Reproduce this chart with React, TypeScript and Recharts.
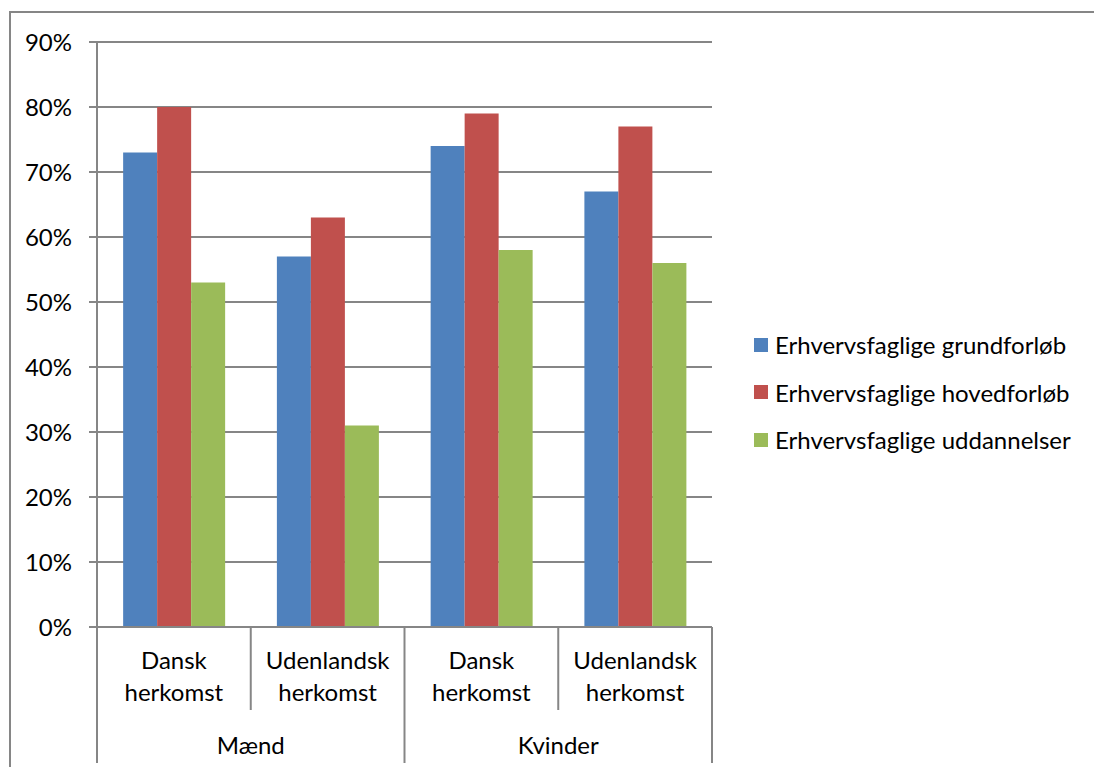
import React from 'react'
import { BarChart, Bar, XAxis, YAxis, CartesianGrid, Legend } from 'recharts'

const groups = ['Mænd', 'Mænd', 'Kvinder', 'Kvinder']
const origins = ['Dansk herkomst', 'Udenlandsk herkomst', 'Dansk herkomst', 'Udenlandsk herkomst']
const grundforloeb = [73, 57, 74, 67]
const hovedforloeb = [80, 63, 79, 77]
const uddannelser = [53, 31, 58, 56]
const yTicks = [0, 10, 20, 30, 40, 50, 60, 70, 80, 90]

const seriesNames = [
  'Erhvervsfaglige grundforløb',
  'Erhvervsfaglige hovedforløb',
  'Erhvervsfaglige uddannelser',
]

const data = origins.map((o, i) => ({
  key: i,
  origin: o,
  group: groups[i],
  grund: grundforloeb[i] / 100,
  hoved: hovedforloeb[i] / 100,
  udd: uddannelser[i] / 100,
}))

const FONT = 'Lato, "Liberation Sans", sans-serif'
const FS = 24
const GRID = '#868686'

const CategoryTick = (props: any) => {
  const { x, y, payload, index } = props
  const half = payload.offset ?? 0
  const row = data[index]
  const [l1, l2] = row.origin.split(' ')
  const left = x - half
  const right = x + half
  const groupStart = index === 0 || groups[index] !== groups[index - 1]
  const isLast = index === data.length - 1
  return (
    <g>
      <line x1={left} y1={y} x2={left} y2={groupStart ? y + 136 : y + 83} stroke={GRID} strokeWidth={2} />
      {isLast && <line x1={right} y1={y} x2={right} y2={y + 136} stroke={GRID} strokeWidth={2} />}
      <text x={x} y={y + 42} textAnchor="middle" fontFamily={FONT} fontSize={FS} fill="#000">
        {l1}
      </text>
      <text x={x} y={y + 74} textAnchor="middle" fontFamily={FONT} fontSize={FS} fill="#000">
        {l2}
      </text>
      {groupStart && (
        <text x={right} y={y + 127} textAnchor="middle" fontFamily={FONT} fontSize={FS} fill="#000">
          {row.group}
        </text>
      )}
    </g>
  )
}

const LegendContent = () => {
  const colors = ['#4F81BD', '#C0504D', '#9BBB59']
  return (
    <div style={{ fontFamily: FONT, fontSize: FS, color: '#000' }}>
      {seriesNames.map((n, i) => (
        <div key={n} style={{ display: 'flex', alignItems: 'center', height: 47.5 }}>
          <span style={{ display: 'inline-block', width: 14, height: 14, background: colors[i], marginRight: 7 }} />
          {n}
        </div>
      ))}
    </div>
  )
}

export default function App() {
  return (
    <div style={{ position: 'absolute', left: 0, top: 0, width: 1094, height: 767, background: '#fff', overflow: 'hidden' }}>
      <svg width={1094} height={767} style={{ position: 'absolute', left: 0, top: 0 }}>
        <rect x={10} y={12} width={1200} height={800} fill="none" stroke={GRID} strokeWidth={2} />
      </svg>
      <BarChart
        width={1094}
        height={767}
        data={data}
        margin={{ top: 42, right: 382, bottom: 0, left: 17 }}
        barCategoryGap="17%"
        barGap={0}
        style={{ position: 'absolute', left: 0, top: 0 }}
      >
        <CartesianGrid vertical={false} stroke={GRID} strokeWidth={2} />
        <YAxis
          width={80}
          domain={[0, 0.9]}
          ticks={yTicks.map(t => t / 100)}
          tickFormatter={v => `${Math.round(v * 100)}%`}
          interval={0}
          axisLine={{ stroke: GRID, strokeWidth: 2 }}
          tickLine={{ stroke: GRID, strokeWidth: 2 }}
          tickSize={8}
          tickMargin={17}
          tick={{ fontFamily: FONT, fontSize: FS, fill: '#000' }}
        />
        <XAxis
          dataKey="key"
          height={140}
          interval={0}
          tickSize={0}
          tickMargin={0}
          tickLine={false}
          axisLine={{ stroke: GRID, strokeWidth: 2 }}
          tick={<CategoryTick />}
        />
        <Legend
          layout="vertical"
          align="center"
          verticalAlign="middle"
          content={<LegendContent />}
          wrapperStyle={{ left: 754, top: 321, width: 340 }}
        />
        <Bar dataKey="grund" name={seriesNames[0]} fill="#4F81BD" isAnimationActive={false} />
        <Bar dataKey="hoved" name={seriesNames[1]} fill="#C0504D" isAnimationActive={false} />
        <Bar dataKey="udd" name={seriesNames[2]} fill="#9BBB59" isAnimationActive={false} />
      </BarChart>
    </div>
  )
}
